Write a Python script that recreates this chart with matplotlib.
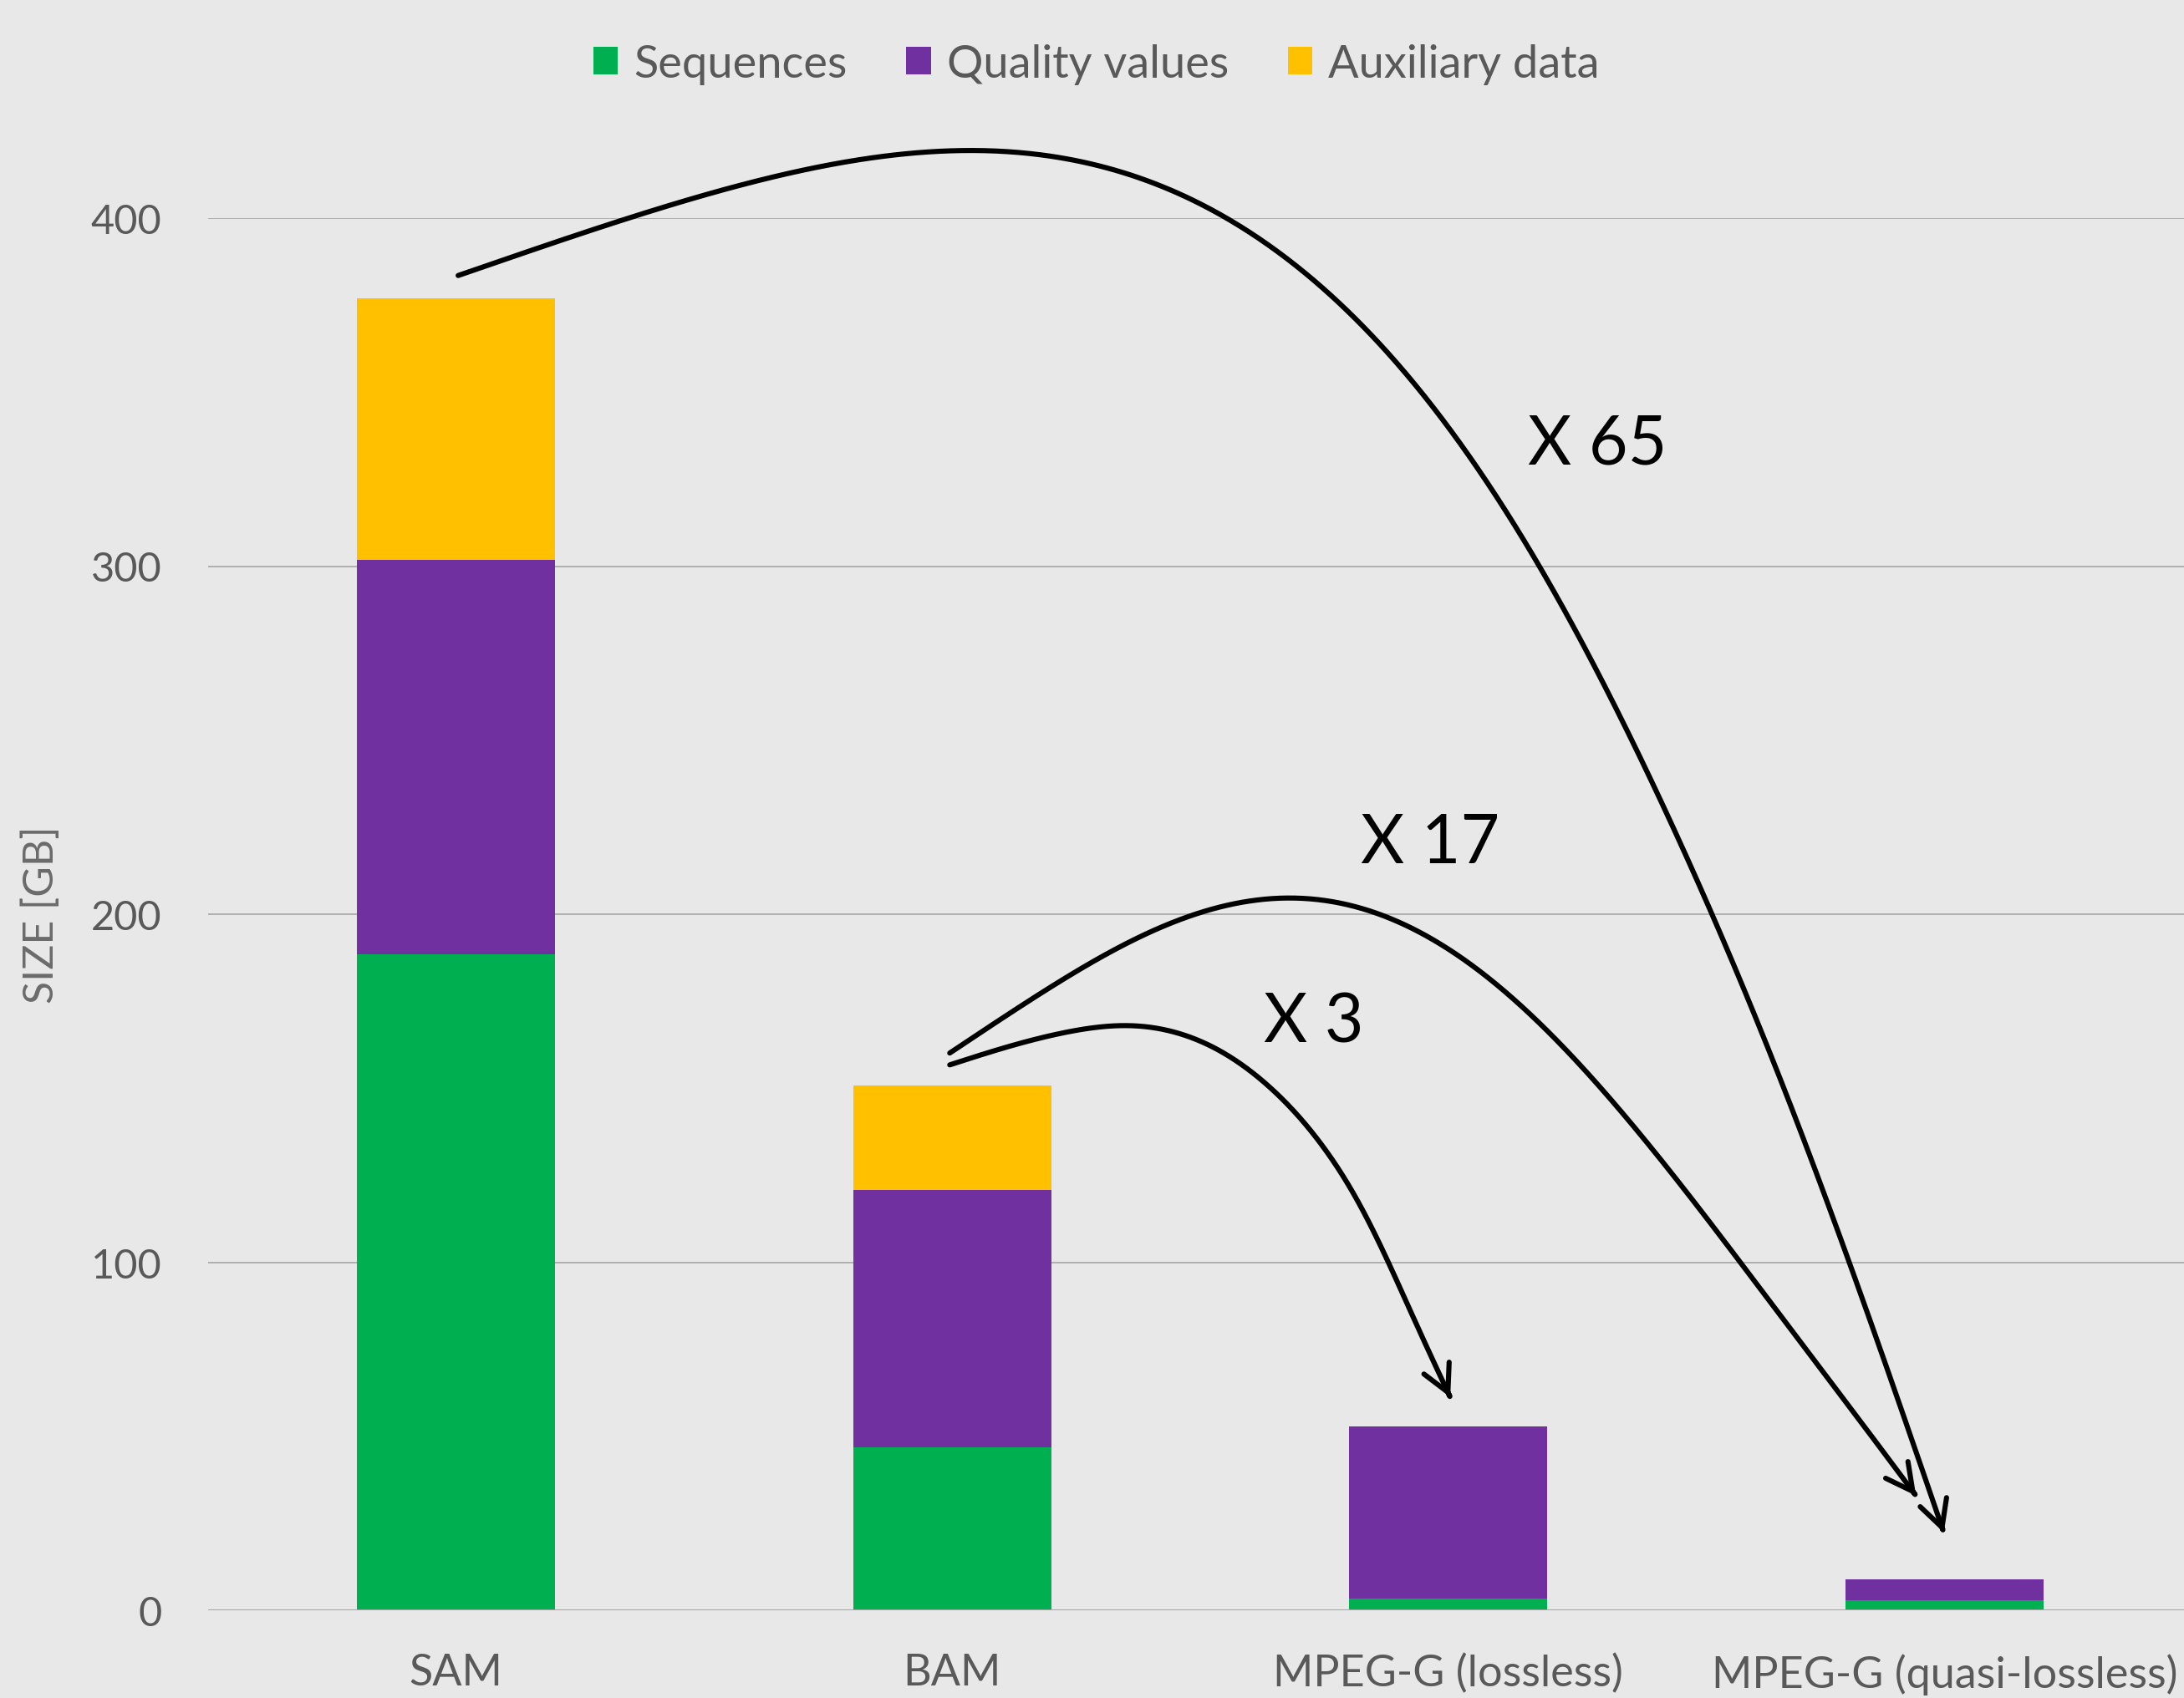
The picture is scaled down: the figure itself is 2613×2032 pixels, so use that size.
import numpy as np
import matplotlib
matplotlib.use('Agg')
import matplotlib.pyplot as plt
from matplotlib.path import Path
from matplotlib.patches import FancyArrowPatch

# ---------------- data ----------------
categories = ['SAM', 'BAM', 'MPEG-G (lossless)', 'MPEG-G (quasi-lossless)']
sequences = [188.4, 46.8, 3.4, 2.9]
quality = [113.3, 74.0, 49.4, 6.0]
auxiliary = [75.3, 30.0, 0.0, 0.0]
series_names = ['Sequences', 'Quality values', 'Auxiliary data']
yticks = [0, 100, 200, 300, 400]

# annotation arrows (category index, GB)
arrow_x65 = [(0.004, 383.5), (0.160, 391.5), (0.349, 401.0), (0.725, 418.0), (1.072, 426.0),
             (1.329, 422.0), (1.479, 413.0), (1.628, 400.0), (1.778, 382.6), (1.930, 358.0),
             (2.080, 328.0), (2.230, 292.0), (2.397, 244.0), (2.547, 197.0), (2.697, 145.0),
             (2.810, 99.8), (2.923, 55.0), (2.999, 22.3)]
arrow_x17 = [(0.995, 160.1), (1.160, 176.0), (1.310, 190.0), (1.460, 202.0), (1.686, 210.5),
             (1.864, 204.5), (2.036, 190.0), (2.208, 167.3), (2.380, 139.0), (2.552, 107.3),
             (2.724, 74.0), (2.896, 42.7), (2.943, 32.9)]
arrow_x3 = [(0.995, 156.7), (1.080, 160.8), (1.160, 164.4), (1.371, 170.5), (1.536, 163.5),
            (1.686, 145.7), (1.799, 124.1), (1.875, 101.8), (1.951, 77.0), (2.004, 61.2)]
factor_labels = ['X 65', 'X 17', 'X 3']
factor_pos = [(2.161, 329.5), (1.824, 214.8), (1.628, 163.4)]

# ---------------- style ----------------
BG = '#E8E8E8'
colors = ['#00B050', '#7030A0', '#FFC000']
TXT = '#595959'
FONT = 'Lato'
plt.rcParams['font.family'] = [FONT, 'DejaVu Sans']

W, H = 2613, 2033
fig = plt.figure(figsize=(W / 100, H / 100), dpi=100, facecolor=BG)
left = 249 / W
right = 2623 / W
bottom = 1 - 1928 / H
top = 1 - 262 / H
ax = fig.add_axes([left, bottom, right - left, top - bottom], facecolor=BG)

x = np.arange(len(categories))
width = 0.40
b1 = ax.bar(x, sequences, width, color=colors[0], label=series_names[0], zorder=2)
b2 = ax.bar(x, quality, width, bottom=sequences, color=colors[1], label=series_names[1], zorder=2)
bottom2 = np.array(sequences) + np.array(quality)
b3 = ax.bar(x, auxiliary, width, bottom=bottom2, color=colors[2], label=series_names[2], zorder=2)

ax.set_xlim(-0.5, len(categories) - 0.5)
ax.set_ylim(0, 400)
ax.set_yticks(yticks)
ax.set_yticklabels([str(v) for v in yticks])
ax.set_xticks(x)
ax.set_xticklabels(categories)
ax.tick_params(axis='both', length=0, labelcolor=TXT)
ax.tick_params(axis='y', pad=40, labelsize=35)
ax.tick_params(axis='x', pad=37, labelsize=37.5)
for s in ax.spines.values():
    s.set_visible(False)
ax.yaxis.grid(True, color='#A0A0A0', linewidth=1.1, zorder=0)
ax.set_axisbelow(True)
ax.axhline(0, color='#A6A6A6', linewidth=2.2, zorder=3)

ax.set_ylabel('SIZE [GB]', fontsize=36, color='#6B6B6B')
ax.yaxis.set_label_coords((50 - 249) / (2623 - 249), 0.5)
ax.yaxis.label.set_va('center')

leg = fig.legend(handles=[b1, b2, b3], labels=series_names, loc='center',
                 bbox_to_anchor=(0.502, 0.962), ncol=3, frameon=False, fontsize=39,
                 handlelength=0.55, handleheight=0.55, handletextpad=0.35,
                 columnspacing=1.3, labelcolor=TXT)

PX_X, PX_Y = 593.3, 4.1665   # approx pixel size of one unit on each axis


def smooth_curve(pts, sigma=0.06, n=800):
    """Resample the sketched polyline by arc length and smooth it with a
    Gaussian kernel (ends fixed by point reflection)."""
    P = np.asarray(pts, dtype=float)
    X, Y = P[:, 0] * PX_X, P[:, 1] * PX_Y
    d = np.hypot(np.diff(X), np.diff(Y))
    t = np.concatenate([[0], np.cumsum(d)])
    t = t / t[-1]
    tt = np.linspace(0, 1, n)
    xs, ys = np.interp(tt, t, X), np.interp(tt, t, Y)
    m = int(3 * sigma * n)
    xp = np.concatenate([2 * xs[0] - xs[m:0:-1], xs, 2 * xs[-1] - xs[-2:-m - 2:-1]])
    yp = np.concatenate([2 * ys[0] - ys[m:0:-1], ys, 2 * ys[-1] - ys[-2:-m - 2:-1]])
    k = np.arange(-m, m + 1)
    g = np.exp(-0.5 * (k / (sigma * n)) ** 2)
    g /= g.sum()
    xsm = np.convolve(xp, g, mode='valid')
    ysm = np.convolve(yp, g, mode='valid')
    return np.column_stack([xsm / PX_X, ysm / PX_Y])


for pts, sig in ((arrow_x65, 0.065), (arrow_x17, 0.07), (arrow_x3, 0.065)):
    curve = smooth_curve(pts, sig)
    arr = FancyArrowPatch(path=Path(curve),
                          arrowstyle='->,head_length=2.3,head_width=1.2',
                          mutation_scale=10, linewidth=4.4, color='black',
                          capstyle='round', zorder=5, clip_on=False)
    ax.add_patch(arr)

for lab, (tx, ty) in zip(factor_labels, factor_pos):
    ax.text(tx, ty, lab, fontsize=58, color='black', ha='left', va='baseline',
            zorder=6, clip_on=False)

fig.savefig('out.png', dpi=100, facecolor=BG)
